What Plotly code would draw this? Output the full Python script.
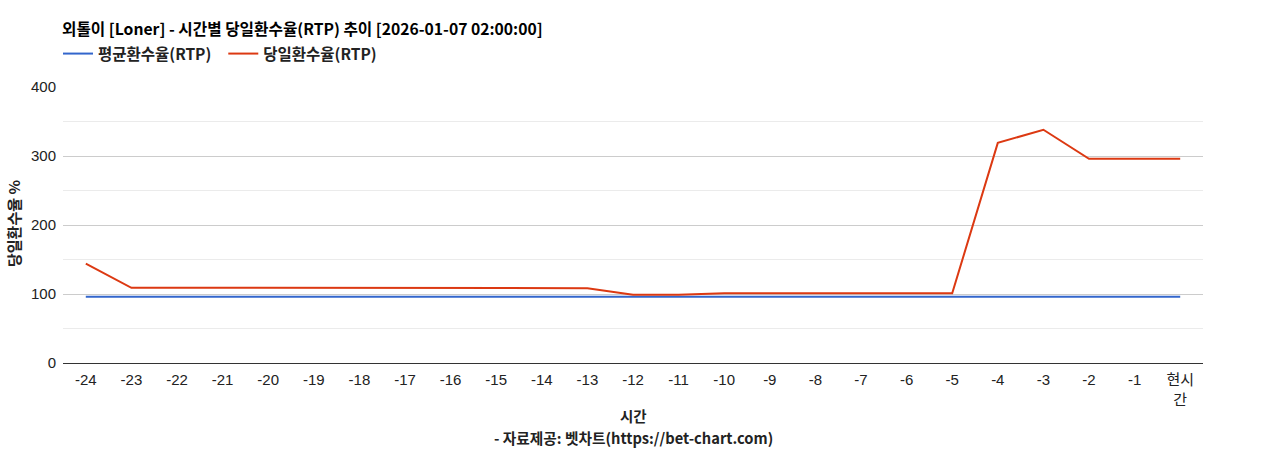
import plotly.graph_objects as go

# 시간축 라벨 (-24 ~ 현시간)
hours = ["-24", "-23", "-22", "-21", "-20", "-19", "-18", "-17", "-16", "-15", "-14", "-13",
         "-12", "-11", "-10", "-9", "-8", "-7", "-6", "-5", "-4", "-3", "-2", "-1", "현시<br>간"]

avg_rtp = [96] * 25
day_rtp = [144, 109, 109, 109, 109, 109, 109, 109, 109, 109, 108.5, 108.5,
           99, 99, 101, 101, 101, 101, 101, 101, 319, 338, 296, 296, 296]

title_txt = "외톨이 [Loner] - 시간별 당일환수율(RTP) 추이 [2026-01-07 02:00:00]"
kfont = "Noto Sans CJK KR"
nfont = "Liberation Sans, Noto Sans CJK KR"

PLOT_W = 1268 - 63 - 65
PLOT_H = 450 - 87 - 87

fig = go.Figure()
fig.add_trace(go.Scatter(x=hours, y=avg_rtp, mode="lines",
                         name="<b>평균환수율(RTP)</b>&nbsp;&nbsp;",
                         line=dict(color="#3366cc", width=2)))
fig.add_trace(go.Scatter(x=hours, y=day_rtp, mode="lines", name="<b>당일환수율(RTP)</b>",
                         line=dict(color="#dc3912", width=2)))

fig.update_layout(
    width=1268, height=450,
    margin=dict(l=63, r=65, t=87, b=87),
    paper_bgcolor="white", plot_bgcolor="white",
    font=dict(family=nfont, size=15, color="#222"),
    title=dict(text="<b>" + title_txt + "</b>", x=62 / 1268, xref="container", xanchor="left",
               y=1 - 30 / 450, yref="container", yanchor="middle",
               font=dict(family=kfont, size=15.7, color="#000")),
    legend=dict(orientation="h", x=-5 / PLOT_W, xanchor="left", y=1 + (87 - 54) / PLOT_H,
                yanchor="middle", font=dict(family=kfont, size=15.5, color="#222"),
                itemwidth=30, bgcolor="rgba(0,0,0,0)"),
    showlegend=True,
)

fig.update_xaxes(
    type="category", range=[-0.5, 24.5], showgrid=False,
    showline=True, linecolor="#333", linewidth=1,
    ticks="", ticklabelstandoff=3, tickfont=dict(family=nfont, size=15, color="#222"),
)
fig.update_yaxes(
    range=[0, 400], dtick=100, showgrid=True, gridcolor="#cccccc", gridwidth=1,
    minor=dict(dtick=50, showgrid=True, gridcolor="#ebebeb"),
    zeroline=False, ticks="", ticklabelstandoff=6,
    tickfont=dict(family=nfont, size=15, color="#222"),
)

fig.add_annotation(text="<b>당일환수율 %</b>", textangle=-90, x=(13 - 63) / PLOT_W, xref="paper",
                   xanchor="center", y=(363 - 224) / PLOT_H, yref="paper", yanchor="middle",
                   showarrow=False, font=dict(family=kfont, size=15, color="#222"))
fig.add_annotation(text="<b>시간</b>", x=0.5, xref="paper", y=(363 - 415) / PLOT_H, yref="paper",
                   showarrow=False, yanchor="middle", font=dict(family=kfont, size=14.5, color="#222"))
fig.add_annotation(text="<b>- 자료제공: 벳차트(https://bet-chart.com)</b>", x=0.5, xref="paper",
                   y=(363 - 437) / PLOT_H, yref="paper", showarrow=False, yanchor="middle",
                   font=dict(family=kfont, size=14.7, color="#222"))

fig.write_html("out.html", config={"displayModeBar": False},
               post_script="document.body.style.margin='0px';")
